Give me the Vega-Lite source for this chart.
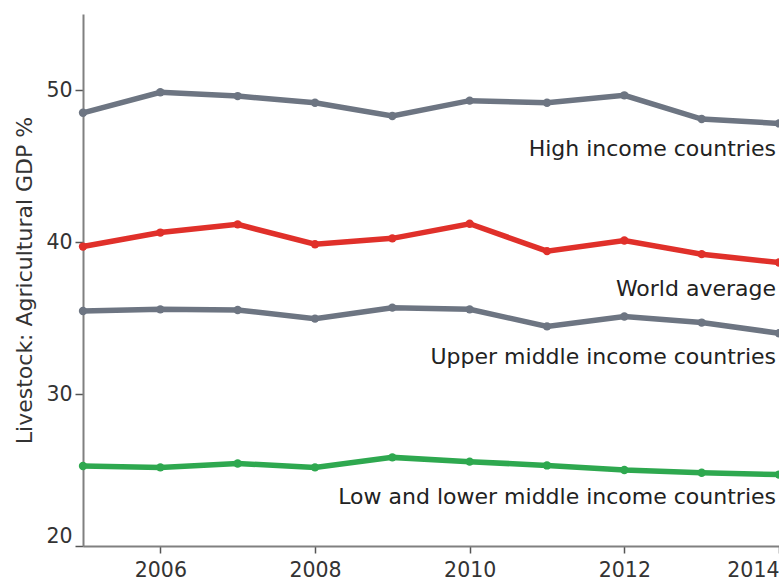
{
  "$schema": "https://vega.github.io/schema/vega-lite/v6.json",
  "width": 696,
  "height": 532,
  "autosize": {"type": "none"},
  "padding": {"left": 83, "top": 14, "right": 0, "bottom": 38},
  "config": {
    "view": {"stroke": null},
    "font": "DejaVu Sans",
    "axis": {"domainColor": "#808080", "domainWidth": 2, "tickColor": "#555555", "tickWidth": 1.5, "labelColor": "#333333", "titleColor": "#333333", "labelFontSize": 20.5, "titleFontSize": 22, "titleFontWeight": "normal", "grid": false}
  },
  "datasets": {
    "series": [
      {"year": 2005, "value": 48.5, "group": "High income countries"},
      {"year": 2006, "value": 49.85, "group": "High income countries"},
      {"year": 2007, "value": 49.6, "group": "High income countries"},
      {"year": 2008, "value": 49.16, "group": "High income countries"},
      {"year": 2009, "value": 48.29, "group": "High income countries"},
      {"year": 2010, "value": 49.3, "group": "High income countries"},
      {"year": 2011, "value": 49.16, "group": "High income countries"},
      {"year": 2012, "value": 49.65, "group": "High income countries"},
      {"year": 2013, "value": 48.09, "group": "High income countries"},
      {"year": 2014, "value": 47.8, "group": "High income countries"},
      {"year": 2005, "value": 39.7, "group": "World average"},
      {"year": 2006, "value": 40.62, "group": "World average"},
      {"year": 2007, "value": 41.16, "group": "World average"},
      {"year": 2008, "value": 39.85, "group": "World average"},
      {"year": 2009, "value": 40.24, "group": "World average"},
      {"year": 2010, "value": 41.2, "group": "World average"},
      {"year": 2011, "value": 39.4, "group": "World average"},
      {"year": 2012, "value": 40.1, "group": "World average"},
      {"year": 2013, "value": 39.2, "group": "World average"},
      {"year": 2014, "value": 38.65, "group": "World average"},
      {"year": 2005, "value": 35.46, "group": "Upper middle income countries"},
      {"year": 2006, "value": 35.57, "group": "Upper middle income countries"},
      {"year": 2007, "value": 35.53, "group": "Upper middle income countries"},
      {"year": 2008, "value": 34.96, "group": "Upper middle income countries"},
      {"year": 2009, "value": 35.68, "group": "Upper middle income countries"},
      {"year": 2010, "value": 35.57, "group": "Upper middle income countries"},
      {"year": 2011, "value": 34.45, "group": "Upper middle income countries"},
      {"year": 2012, "value": 35.1, "group": "Upper middle income countries"},
      {"year": 2013, "value": 34.7, "group": "Upper middle income countries"},
      {"year": 2014, "value": 34.0, "group": "Upper middle income countries"},
      {"year": 2005, "value": 25.26, "group": "Low and lower middle income countries"},
      {"year": 2006, "value": 25.17, "group": "Low and lower middle income countries"},
      {"year": 2007, "value": 25.43, "group": "Low and lower middle income countries"},
      {"year": 2008, "value": 25.17, "group": "Low and lower middle income countries"},
      {"year": 2009, "value": 25.83, "group": "Low and lower middle income countries"},
      {"year": 2010, "value": 25.55, "group": "Low and lower middle income countries"},
      {"year": 2011, "value": 25.3, "group": "Low and lower middle income countries"},
      {"year": 2012, "value": 25.0, "group": "Low and lower middle income countries"},
      {"year": 2013, "value": 24.82, "group": "Low and lower middle income countries"},
      {"year": 2014, "value": 24.7, "group": "Low and lower middle income countries"}
    ],
    "labels": [
      {"year": 2014, "value": 46.1, "group": "High income countries"},
      {"year": 2014, "value": 36.9, "group": "World average"},
      {"year": 2014, "value": 32.45, "group": "Upper middle income countries"},
      {"year": 2014, "value": 23.2, "group": "Low and lower middle income countries"}
    ]
  },
  "layer": [
    {
      "data": {"name": "series"},
      "mark": {"type": "line", "strokeWidth": 5.5, "point": {"size": 70, "filled": true}, "clip": false},
      "encoding": {
        "x": {"field": "year", "type": "quantitative", "scale": {"domain": [2005, 2014], "nice": false, "zero": false},
          "axis": {"values": [2006, 2008, 2010, 2012, 2014], "format": "d", "title": null, "tickSize": 7, "labelPadding": 7, "labelFlush": true}},
        "y": {"field": "value", "type": "quantitative", "scale": {"domain": [20, 55], "nice": false, "zero": false},
          "axis": {"values": [20, 30, 40, 50], "title": "Livestock: Agricultural GDP %", "tickSize": 8, "labelPadding": 3, "labelFlush": true, "titlePadding": 9}},
        "detail": {"field": "group"},
        "color": {"field": "group", "type": "nominal", "legend": null,
          "scale": {"domain": ["High income countries", "World average", "Upper middle income countries", "Low and lower middle income countries"],
                    "range": ["#6d7582", "#e0302a", "#6d7582", "#2ea84f"]}}
      }
    },
    {
      "data": {"name": "labels"},
      "mark": {"type": "text", "align": "right", "baseline": "middle", "fontSize": 22, "color": "#222222", "dx": -3},
      "encoding": {
        "x": {"field": "year", "type": "quantitative"},
        "y": {"field": "value", "type": "quantitative"},
        "text": {"field": "group"}
      }
    }
  ]
}
